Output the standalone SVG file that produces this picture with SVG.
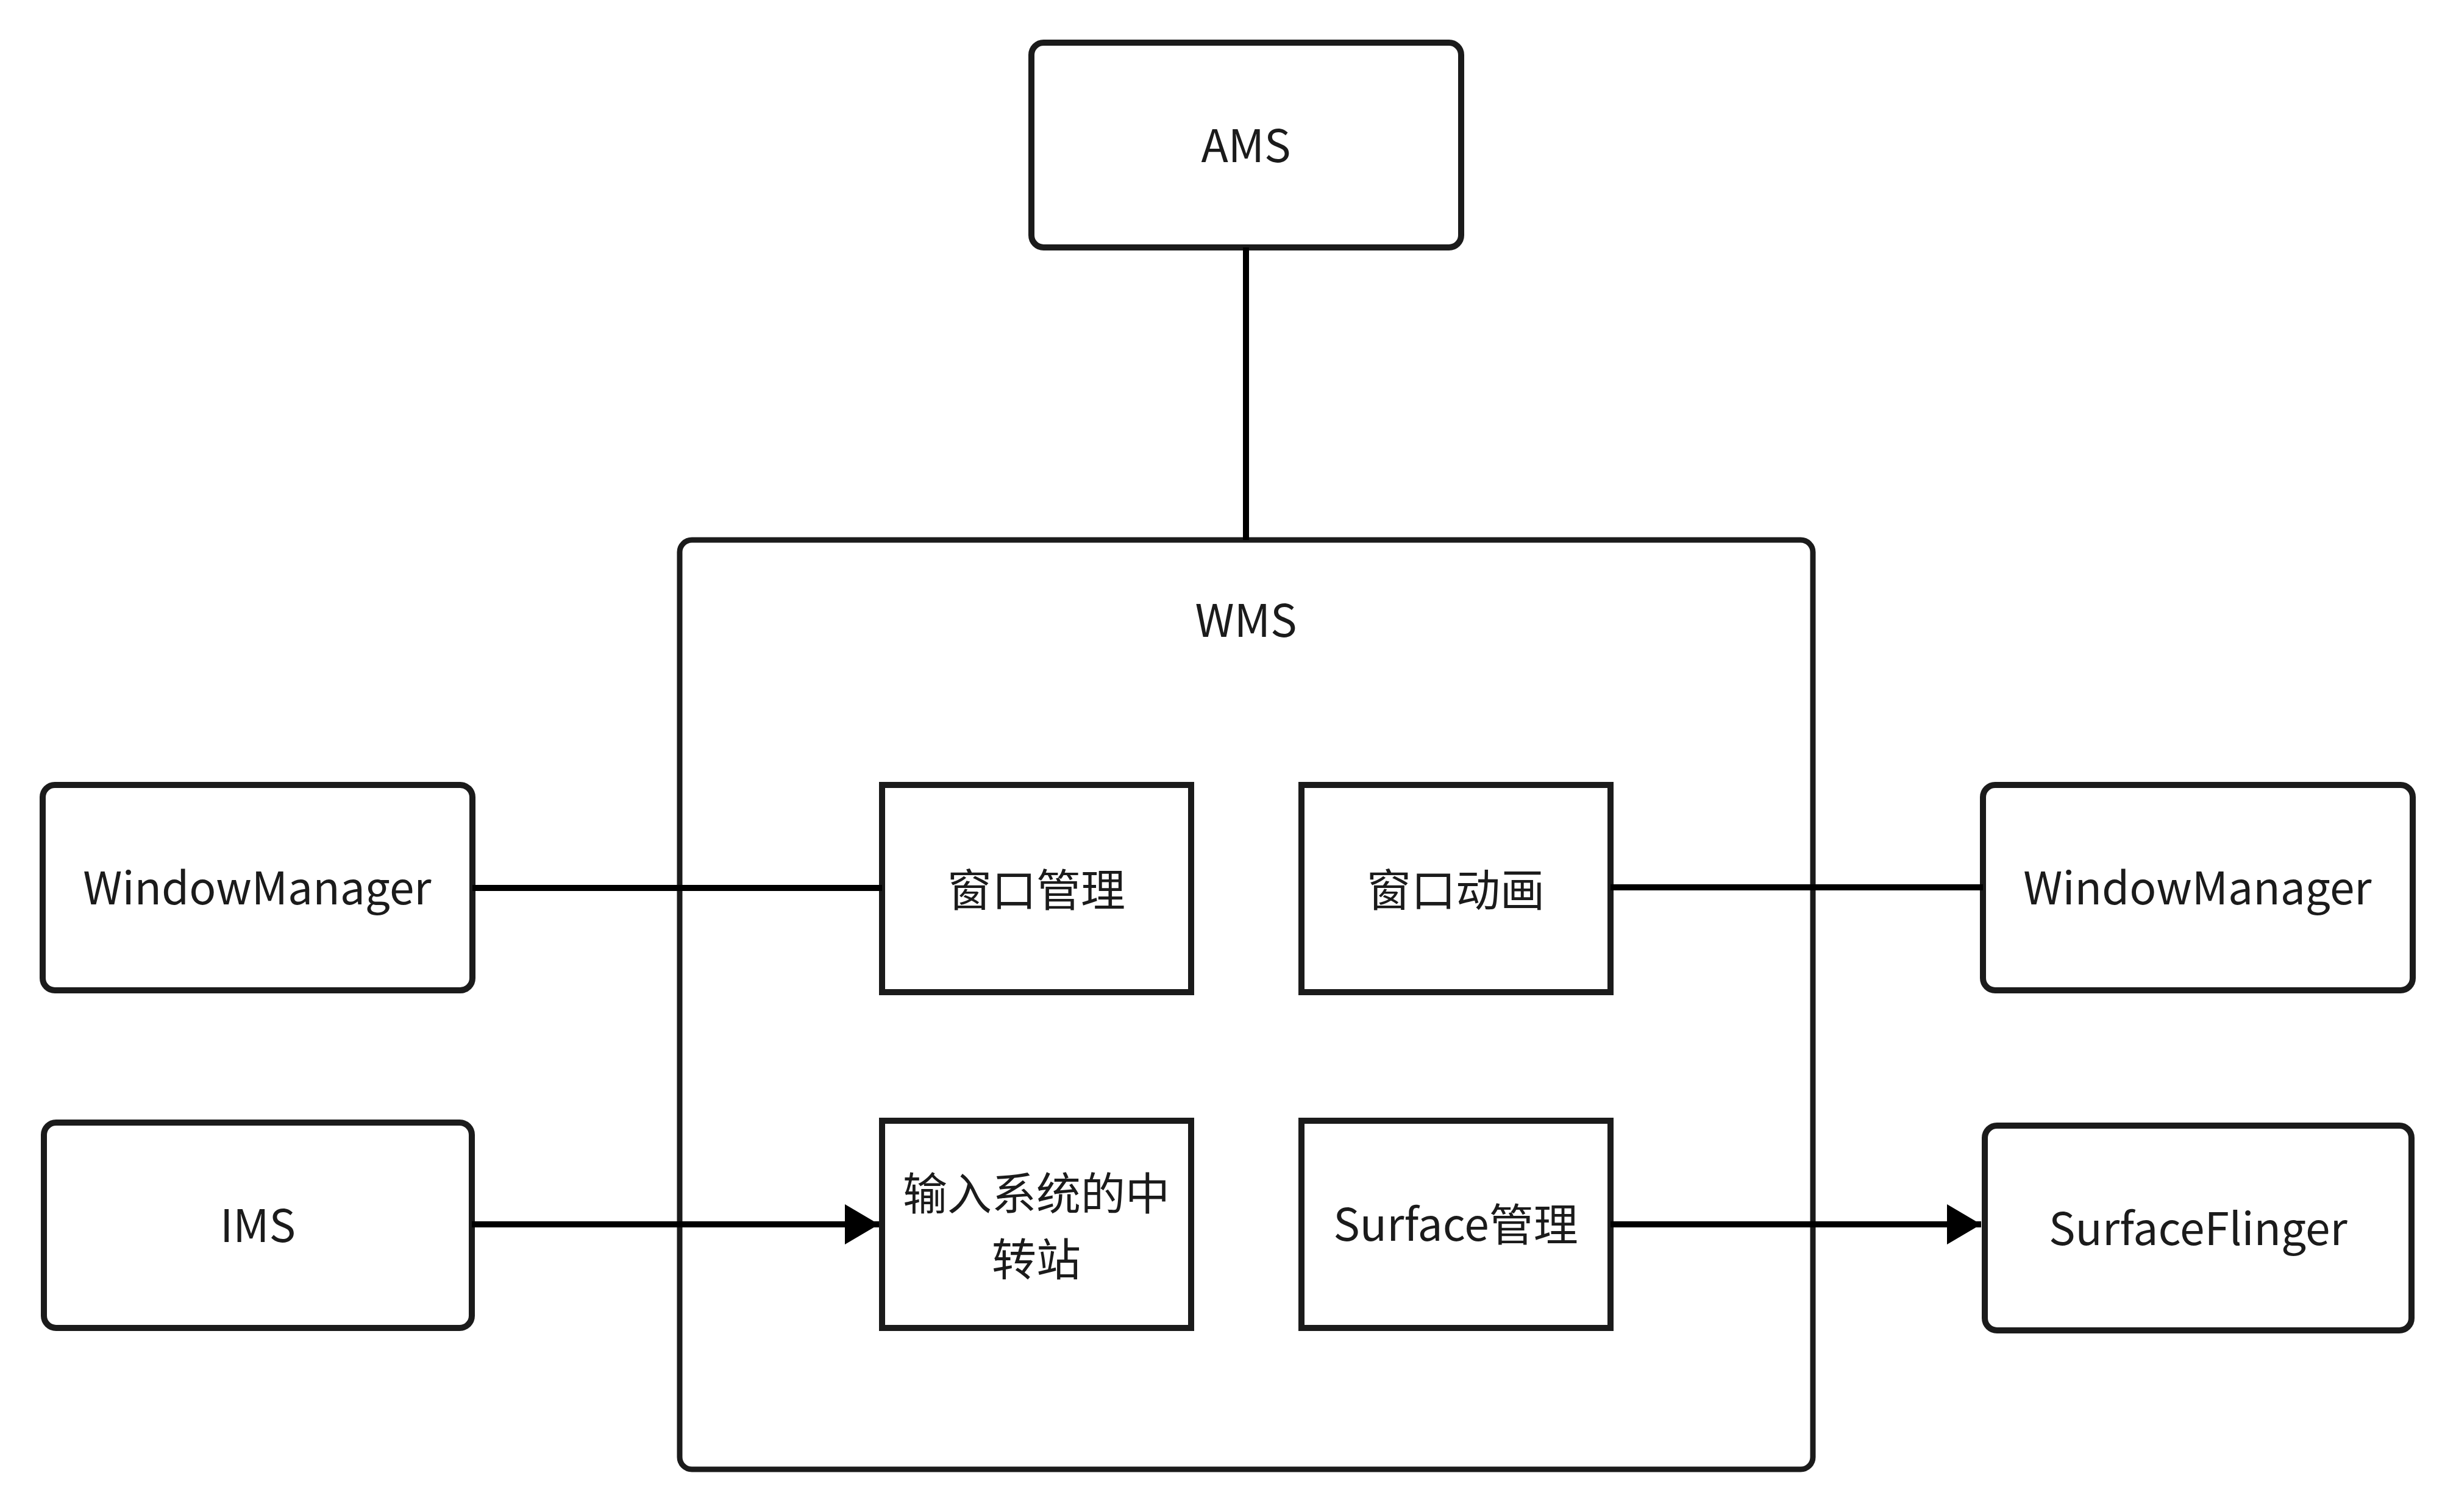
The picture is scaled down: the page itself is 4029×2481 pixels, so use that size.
<svg xmlns="http://www.w3.org/2000/svg" width="4029" height="2481" viewBox="0 0 4029 2481">
<style>
.node{fill:#fff;stroke:#1b1b1b;stroke-width:10}
.inner{fill:#fff;stroke:#1b1b1b;stroke-width:10}
.group{fill:#fff;stroke:#1b1b1b;stroke-width:9}
.lbl{font-family:"Noto Sans CJK SC","Noto Sans",sans-serif;font-size:73px;fill:#1b1b1b;text-anchor:middle;dominant-baseline:central}
.conn{stroke:#000;stroke-width:10;fill:none}
</style>
<defs>
<marker id="arrow" markerUnits="userSpaceOnUse" markerWidth="60" markerHeight="66" refX="56" refY="33" orient="auto">
<path d="M0,0 L56,33 L0,66 Z" fill="#000"/>
</marker>
</defs>
<rect width="4029" height="2481" fill="#fff"/>
<g id="WMS">
<rect class="group" x="1115" y="886" width="1859" height="1525" rx="20"/>
<text class="lbl" x="2044" y="1013">WMS</text>
</g>
<g id="AMS">
<rect class="node" x="1692" y="70" width="705" height="336" rx="20"/>
<text class="lbl" x="2044" y="234">AMS</text>
</g>
<g id="WindowManagerLeft">
<rect class="node" x="70" y="1288" width="705" height="337" rx="20"/>
<text class="lbl" x="422" y="1452">WindowManager</text>
</g>
<g id="IMS">
<rect class="node" x="72" y="1842" width="702" height="337" rx="20"/>
<text class="lbl" x="423" y="2006">IMS</text>
</g>
<g id="WindowManagerRight">
<rect class="node" x="3253" y="1288" width="705" height="337" rx="20"/>
<text class="lbl" x="3605" y="1452">WindowManager</text>
</g>
<g id="SurfaceFlinger">
<rect class="node" x="3256" y="1847" width="700" height="336" rx="20"/>
<text class="lbl" x="3606" y="2011">SurfaceFlinger</text>
</g>
<g id="WindowMgmt">
<rect class="inner" x="1447" y="1288" width="507" height="340"/>
<text class="lbl" x="1700" y="1455">窗口管理</text>
</g>
<g id="WindowAnim">
<rect class="inner" x="2135" y="1288" width="507" height="340"/>
<text class="lbl" x="2388" y="1455">窗口动画</text>
</g>
<g id="InputRelay">
<rect class="inner" x="1447" y="1839" width="507" height="340"/>
<text class="lbl" x="1700" y="1953">输入系统的中</text>
<text class="lbl" x="1700" y="2061">转站</text>
</g>
<g id="SurfaceMgmt">
<rect class="inner" x="2135" y="1839" width="507" height="340"/>
<text class="lbl" x="2388" y="2004">Surface管理</text>
</g>
<g id="connectors">
<line class="conn" x1="2044" y1="406" x2="2044" y2="886"/>
<line class="conn" x1="775" y1="1457" x2="1447" y2="1457"/>
<line class="conn" x1="2642" y1="1456" x2="3253" y2="1456"/>
<line class="conn" x1="774" y1="2009" x2="1442" y2="2009" marker-end="url(#arrow)"/>
<line class="conn" x1="2642" y1="2009" x2="3250" y2="2009" marker-end="url(#arrow)"/>
</g>
</svg>
